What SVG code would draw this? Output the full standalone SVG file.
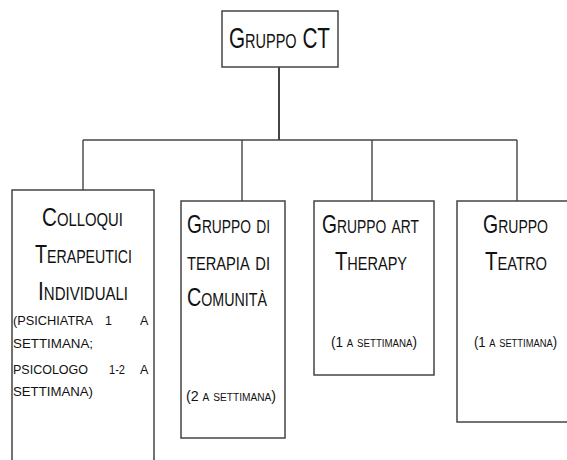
<svg xmlns="http://www.w3.org/2000/svg" width="567" height="460" viewBox="0 0 567 460">
<style>
.box{fill:#fff;stroke:#444;stroke-width:1.5}
.conn line{stroke:#444;stroke-width:1.4}
text{font-family:"Liberation Sans",Arial,sans-serif;fill:#111}
.sc{font-variant:small-caps}
.t1{font-size:30px}
.t2{font-size:25px}
.t3{font-size:12.5px}
.t4{font-size:14px}
</style>
<rect width="567" height="460" fill="#fff"/>
<g id="connectors" class="conn">
<line x1="279" y1="67" x2="279" y2="140" style="stroke-width:2"/>
<line x1="83" y1="140" x2="517" y2="140"/>
<line x1="83" y1="140" x2="83" y2="190"/>
<line x1="242" y1="140" x2="242" y2="201"/>
<line x1="372" y1="140" x2="372" y2="201"/>
<line x1="517" y1="140" x2="517" y2="201"/>
</g>
<g id="gruppo-ct">
<rect class="box" x="222" y="11" width="116" height="56"/>
<text class="t1 sc" x="229" y="48" textLength="101" lengthAdjust="spacingAndGlyphs">Gruppo CT</text>
</g>
<g id="colloqui">
<rect class="box" x="12" y="190" width="142" height="290"/>
<text class="t2 sc" x="42" y="226" textLength="81" lengthAdjust="spacingAndGlyphs">Colloqui</text>
<text class="t2 sc" x="35" y="263" textLength="97" lengthAdjust="spacingAndGlyphs">Terapeutici</text>
<text class="t2 sc" x="38" y="300" textLength="90" lengthAdjust="spacingAndGlyphs">Individuali</text>
<text class="t3" y="325"><tspan x="13" textLength="80" lengthAdjust="spacingAndGlyphs">(PSICHIATRA</tspan><tspan x="105">1</tspan><tspan x="140">A</tspan></text>
<text class="t3" x="13" y="348" textLength="80" lengthAdjust="spacingAndGlyphs">SETTIMANA;</text>
<text class="t3" y="374"><tspan x="13" textLength="75" lengthAdjust="spacingAndGlyphs">PSICOLOGO</tspan><tspan x="109" textLength="16" lengthAdjust="spacingAndGlyphs">1-2</tspan><tspan x="140">A</tspan></text>
<text class="t3" x="13" y="396" textLength="80" lengthAdjust="spacingAndGlyphs">SETTIMANA)</text>
</g>
<g id="comunita">
<rect class="box" x="181" y="201" width="104" height="237"/>
<text class="t2 sc" x="187" y="233" textLength="83" lengthAdjust="spacingAndGlyphs">Gruppo di</text>
<text class="t2 sc" x="187" y="270" textLength="83" lengthAdjust="spacingAndGlyphs">terapia di</text>
<text class="t2 sc" x="187" y="306" textLength="80" lengthAdjust="spacingAndGlyphs">Comunità</text>
<text class="t4 sc" x="186" y="401" textLength="90" lengthAdjust="spacingAndGlyphs">(2 a settimana)</text>
</g>
<g id="art-therapy">
<rect class="box" x="314" y="201" width="120" height="174"/>
<text class="t2 sc" x="322" y="233" textLength="97" lengthAdjust="spacingAndGlyphs">Gruppo art</text>
<text class="t2 sc" x="335" y="270" textLength="72" lengthAdjust="spacingAndGlyphs">Therapy</text>
<text class="t4 sc" x="331" y="347" textLength="86" lengthAdjust="spacingAndGlyphs">(1 a settimana)</text>
</g>
<g id="teatro">
<rect class="box" x="457" y="201" width="130" height="221"/>
<text class="t2 sc" x="483" y="233" textLength="65" lengthAdjust="spacingAndGlyphs">Gruppo</text>
<text class="t2 sc" x="485" y="270" textLength="62" lengthAdjust="spacingAndGlyphs">Teatro</text>
<text class="t4 sc" x="474" y="347" textLength="83" lengthAdjust="spacingAndGlyphs">(1 a settimana)</text>
</g>
</svg>
